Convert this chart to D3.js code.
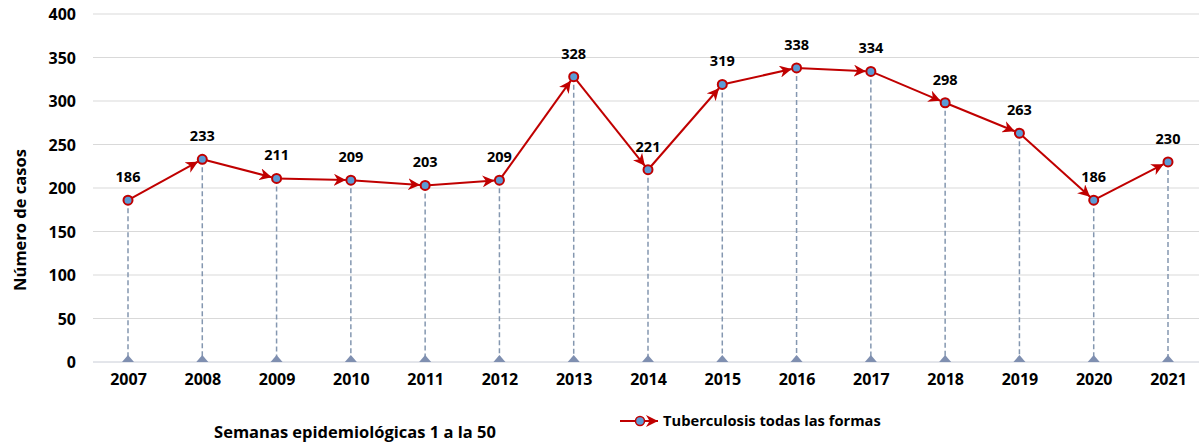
<!DOCTYPE html>
<html><head><meta charset="utf-8">
<script src="https://cdn.jsdelivr.net/npm/d3@7"></script>
<style>body{margin:0;background:#fff}svg{display:block}text{font-family:"Open Sans",Lato,sans-serif;font-weight:bold;fill:#000}</style>
</head><body>
<svg id="c" width="1199" height="444"></svg>
<script>
const years = ["2007","2008","2009","2010","2011","2012","2013","2014","2015","2016","2017","2018","2019","2020","2021"];
const cases = [186,233,211,209,203,209,328,221,319,338,334,298,263,186,230];
const yTicks = [0,50,100,150,200,250,300,350,400];
const seriesName = "Tuberculosis todas las formas";
const yTitle = "Número de casos";
const xTitle = "Semanas epidemiológicas 1 a la 50";

const svg = d3.select("#c");
const x = d3.scalePoint().domain(years).range([128,1168]);
const y = d3.scaleLinear().domain([0,400]).range([362,14]);
const red = "#c00000", blue = "#5b9bd5", drop = "#8497b0";

// grid
svg.append("g").selectAll("line").data(yTicks).join("line")
  .attr("x1",93).attr("x2",1199).attr("y1",d=>y(d)).attr("y2",d=>y(d))
  .attr("stroke",d=>d===0?"#c8ccd6":"#d9d9d9").attr("stroke-width",1);

// y axis labels
const ya = svg.append("g").attr("transform","translate(76,0)")
  .call(d3.axisLeft(y).tickValues(yTicks).tickSize(0).tickPadding(0));
ya.select(".domain").remove();
ya.selectAll("text").attr("font-size",16).attr("dy","0.36em");

// x axis labels
const xa = svg.append("g").attr("transform","translate(0,373)")
  .call(d3.axisBottom(x).tickSize(0).tickPadding(0));
xa.select(".domain").remove();
xa.selectAll("text").attr("font-size",16).attr("dy","0.78em");

// titles
svg.append("text").attr("transform","translate(26,220) rotate(-90)")
  .attr("text-anchor","middle").attr("font-size",16.5).text(yTitle);
svg.append("text").attr("x",355).attr("y",438).attr("text-anchor","middle")
  .attr("font-size",16.5).text(xTitle);

const data = years.map((yr,i)=>({yr,v:cases[i]}));

// drop lines
svg.append("g").selectAll("line").data(data).join("line")
  .attr("x1",d=>x(d.yr)).attr("x2",d=>x(d.yr)).attr("y1",d=>y(d.v)).attr("y2",y(0))
  .attr("stroke",drop).attr("stroke-width",1.5).attr("stroke-dasharray","5,3");
// bottom triangles
svg.append("g").selectAll("path").data(data).join("path")
  .attr("d",d=>{const cx=x(d.yr),cy=y(0);return `M${cx-6},${cy}L${cx},${cy-7}L${cx+6},${cy}Z`;})
  .attr("fill","#7f8fb0");

// arrow marker
const defs = svg.append("defs");
defs.append("marker").attr("id","arr").attr("viewBox","0 0 10 10").attr("refX",10).attr("refY",5)
  .attr("markerWidth",6).attr("markerHeight",6).attr("markerUnits","strokeWidth").attr("orient","auto")
  .append("path").attr("d","M0,0L10,5L0,10L3,5Z").attr("fill",red);

// line segments with arrows
const segs = d3.pairs(data);
svg.append("g").selectAll("line").data(segs).join("line")
  .attr("x1",d=>x(d[0].yr)).attr("y1",d=>y(d[0].v))
  .attr("x2",d=>{const dx=x(d[1].yr)-x(d[0].yr),dy=y(d[1].v)-y(d[0].v),L=Math.hypot(dx,dy);return x(d[1].yr)-dx/L*5;})
  .attr("y2",d=>{const dx=x(d[1].yr)-x(d[0].yr),dy=y(d[1].v)-y(d[0].v),L=Math.hypot(dx,dy);return y(d[1].v)-dy/L*5;})
  .attr("stroke",red).attr("stroke-width",2).attr("marker-end","url(#arr)");

// points
svg.append("g").selectAll("circle").data(data).join("circle")
  .attr("cx",d=>x(d.yr)).attr("cy",d=>y(d.v)).attr("r",4.5)
  .attr("fill",blue).attr("stroke",red).attr("stroke-width",2);

// labels
svg.append("g").selectAll("text").data(data).join("text")
  .attr("x",d=>x(d.yr)).attr("y",d=>y(d.v)-18).attr("text-anchor","middle")
  .attr("font-size",14.5).text(d=>d.v);

// legend
const lg = svg.append("g");
lg.append("line").attr("x1",620).attr("x2",658).attr("y1",421).attr("y2",421)
  .attr("stroke",red).attr("stroke-width",2).attr("marker-end","url(#arr)");
lg.append("circle").attr("cx",640).attr("cy",421).attr("r",4.5).attr("fill",blue).attr("stroke",red).attr("stroke-width",1.5);
lg.append("text").attr("x",663).attr("y",426).attr("font-size",14.7).text(seriesName);
</script>
</body></html>
